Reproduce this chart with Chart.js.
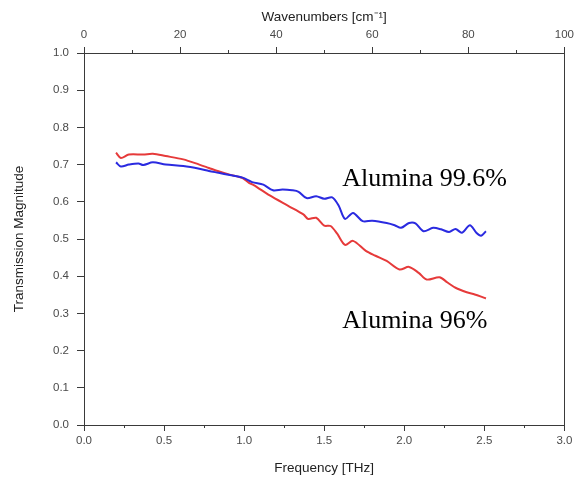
<!DOCTYPE html>
<html>
<head>
<meta charset="utf-8">
<script src="https://cdn.jsdelivr.net/npm/chart.js@4/dist/chart.umd.min.js"></script>
<style>
  html, body { margin: 0; padding: 0; background: #fff; }
  #wrap { width: 579px; height: 485px; }
</style>
</head>
<body>
<div id="wrap"><canvas id="c" width="579" height="485"></canvas></div>
<script>
// ---- data ----
const freqBlue = [0.20,0.23,0.28,0.34,0.37,0.43,0.51,0.62,0.72,0.78,0.84,0.91,0.99,1.05,1.12,1.18,1.24,1.30,1.34,1.39,1.45,1.50,1.55,1.59,1.63,1.68,1.74,1.80,1.89,1.94,1.98,2.03,2.07,2.12,2.18,2.23,2.28,2.32,2.36,2.41,2.45,2.48,2.51];
const transBlue = [0.706,0.695,0.700,0.703,0.699,0.706,0.700,0.696,0.689,0.683,0.678,0.672,0.665,0.653,0.646,0.631,0.633,0.631,0.627,0.610,0.615,0.608,0.612,0.590,0.554,0.570,0.548,0.549,0.543,0.537,0.530,0.543,0.542,0.521,0.530,0.526,0.519,0.527,0.517,0.537,0.517,0.509,0.521];

const freqRed = [0.20,0.23,0.28,0.37,0.43,0.51,0.62,0.72,0.78,0.84,0.91,0.99,1.03,1.06,1.16,1.28,1.37,1.40,1.45,1.50,1.54,1.58,1.63,1.68,1.76,1.82,1.89,1.97,2.03,2.09,2.14,2.22,2.27,2.32,2.39,2.44,2.48,2.51];
const transRed = [0.732,0.718,0.727,0.727,0.729,0.723,0.714,0.700,0.691,0.682,0.673,0.664,0.651,0.645,0.617,0.588,0.566,0.554,0.557,0.536,0.535,0.515,0.484,0.495,0.468,0.455,0.441,0.418,0.425,0.409,0.391,0.397,0.383,0.369,0.357,0.351,0.345,0.340];

const seriesNames = ["Alumina 99.6%", "Alumina 96%"];
const xTickLabels = [0.0, 0.5, 1.0, 1.5, 2.0, 2.5, 3.0];
const yTickLabels = [0.0, 0.1, 0.2, 0.3, 0.4, 0.5, 0.6, 0.7, 0.8, 0.9, 1.0];
const topTickLabels = [0, 20, 40, 60, 80, 100];

// annotation anchor points (data coordinates)
const labelAnchorX = [1.612, 1.612];
const labelAnchorY = [0.6425, 0.2608];

const toXY = (xs, ys) => xs.map((x, i) => ({ x: x, y: ys[i] }));

const AXIS = '#3a3a3a';
const TICKTXT = '#4a4a4a';

const frame = {
  id: 'frame',
  afterDraw(chart) {
    const { ctx, chartArea: a, scales } = chart;
    ctx.save();
    ctx.strokeStyle = AXIS;
    ctx.lineWidth = 1;
    ctx.beginPath();
    ctx.moveTo(Math.round(a.right) + 0.5, a.top);
    ctx.lineTo(Math.round(a.right) + 0.5, a.bottom);
    ctx.stroke();
    ctx.beginPath();
    const xs = scales.x;
    for (let v = 0.25; v < 3; v += 0.5) {
      const p = Math.round(xs.getPixelForValue(v)) + 0.5;
      ctx.moveTo(p, a.bottom); ctx.lineTo(p, a.bottom + 3);
    }
    const xt = scales.x2;
    for (let v = 10; v < 100; v += 20) {
      const p = Math.round(xt.getPixelForValue(v)) + 0.5;
      ctx.moveTo(p, a.top); ctx.lineTo(p, a.top - 3);
    }
    ctx.stroke();
    ctx.fillStyle = '#000';
    ctx.font = '26px "Liberation Serif", "Times New Roman", serif';
    ctx.textAlign = 'left';
    ctx.textBaseline = 'alphabetic';
    seriesNames.forEach((name, i) => {
      ctx.fillText(name, xs.getPixelForValue(labelAnchorX[i]), scales.y.getPixelForValue(labelAnchorY[i]));
    });
    ctx.restore();
  }
};

const tickFont = { family: 'Liberation Sans', size: 11.5 };
const titleFont = { family: 'Liberation Sans', size: 13.5 };

new Chart(document.getElementById('c'), {
  type: 'line',
  data: {
    datasets: [
      { label: seriesNames[0], data: toXY(freqBlue, transBlue), borderColor: '#2a2ae0', borderWidth: 2, pointRadius: 0, tension: 0.3, xAxisID: 'x', yAxisID: 'y' },
      { label: seriesNames[1], data: toXY(freqRed, transRed), borderColor: '#e63a3a', borderWidth: 2, pointRadius: 0, tension: 0.3, xAxisID: 'x', yAxisID: 'y' }
    ]
  },
  options: {
    responsive: false,
    animation: false,
    events: [],
    layout: { padding: { left: 0, right: 13, top: 0, bottom: 0 } },
    plugins: { legend: { display: false }, tooltip: { enabled: false } },
    scales: {
      x: {
        type: 'linear', position: 'bottom', min: 0, max: 3,
        afterBuildTicks: s => { s.ticks = xTickLabels.map(v => ({ value: v })); },
        afterFit: s => { s.height = 60; },
        ticks: { callback: v => v.toFixed(1), color: TICKTXT, font: tickFont, padding: 3, maxRotation: 0 },
        grid: { drawOnChartArea: false, drawTicks: true, tickLength: 6, color: AXIS },
        border: { display: true, color: AXIS, width: 1 },
        title: { display: true, text: 'Frequency [THz]', color: '#222', font: titleFont, padding: { top: 0, bottom: 9 } }
      },
      x2: {
        type: 'linear', position: 'top', min: 0, max: 100,
        afterBuildTicks: s => { s.ticks = topTickLabels.map(v => ({ value: v })); },
        afterFit: s => { s.height = 53; },
        ticks: { callback: v => String(v), color: TICKTXT, font: tickFont, padding: 5, maxRotation: 0 },
        grid: { drawOnChartArea: false, drawTicks: true, tickLength: 6, color: AXIS },
        border: { display: true, color: AXIS, width: 1 },
        title: { display: true, text: 'Wavenumbers [cm\u207B\u00B9]', color: '#222', font: titleFont, padding: { top: 9, bottom: 0 } }
      },
      y: {
        type: 'linear', position: 'left', min: 0, max: 1,
        afterBuildTicks: s => { s.ticks = yTickLabels.map(v => ({ value: v })); },
        afterFit: s => { s.width = 84; },
        ticks: { callback: v => v.toFixed(1), color: TICKTXT, font: tickFont, padding: 8 },
        grid: { drawOnChartArea: false, drawTicks: true, tickLength: 7, color: AXIS },
        border: { display: true, color: AXIS, width: 1 },
        title: { display: true, text: 'Transmission Magnitude', color: '#222', font: titleFont, padding: { top: 11, bottom: 0 } }
      }
    }
  },
  plugins: [frame]
});
</script>
</body>
</html>
